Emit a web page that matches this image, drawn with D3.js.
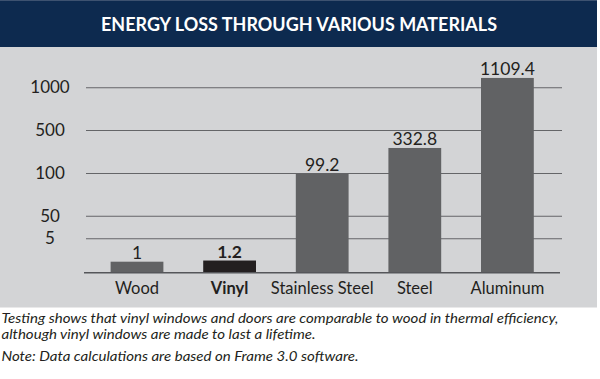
<!DOCTYPE html>
<html>
<head>
<meta charset="utf-8">
<script src="https://cdn.jsdelivr.net/npm/d3@7"></script>
<style>
  html, body { margin: 0; padding: 0; background: #ffffff; }
  svg { display: block; }
  text { font-family: Lato, "Open Sans", sans-serif; fill: #231f20; }
</style>
</head>
<body>
<script>
const title = "ENERGY LOSS THROUGH VARIOUS MATERIALS";
const categories = ["Wood", "Vinyl", "Stainless Steel", "Steel", "Aluminum"];
const values = [1, 1.2, 99.2, 332.8, 1109.4];
const valueLabels = ["1", "1.2", "99.2", "332.8", "1109.4"];
const highlight = "Vinyl";
const tickValues = [5, 50, 100, 500, 1000];
const breakValues = [0, 1, 5, 50, 100, 500, 1000];
const notes = [
  "Testing shows that vinyl windows and doors are comparable to wood in thermal efficiency,",
  "although vinyl windows are made to last a lifetime.",
  "Note: Data calculations are based on Frame 3.0 software."
];

const W = 600, H = 379;
const svg = d3.select("body").append("svg").attr("width", W).attr("height", H);

// header band
svg.append("rect").attr("x", 0).attr("y", 0).attr("width", 597).attr("height", 47).attr("fill", "#0d2a4f");
svg.append("rect").attr("x", 0).attr("y", 0).attr("width", 597).attr("height", 1).attr("fill", "#3d5270");
const t = svg.append("text").attr("x", 299).attr("y", 31).attr("text-anchor", "middle")
  .style("font-weight", "bold").style("font-size", "18.5px").style("fill", "#ffffff").text(title);
t.attr("textLength", 396).attr("lengthAdjust", "spacingAndGlyphs");

// plot background
svg.append("rect").attr("x", 0).attr("y", 47).attr("width", 597).attr("height", 260.5).attr("fill", "#d3d4d6");

// scales (hand-broken value axis, as in the original)
const y = d3.scaleLinear().domain(breakValues).range([272.7, 261.7, 238.3, 215.7, 173, 130, 87.3]);
const x = d3.scaleBand().domain(categories).range([90.7, 553.7]).paddingInner(0.43).paddingOuter(0.215);

// gridlines + labels via axis
const yAxis = d3.axisLeft(y).tickValues(tickValues).tickSize(-476).tickFormat(d3.format("d")).tickPadding(0);
const gy = svg.append("g").attr("transform", "translate(86,0)").call(yAxis);
gy.select(".domain").remove();
gy.selectAll(".tick line").attr("stroke", "#646568").attr("stroke-width", 1.1);
gy.selectAll(".tick text").attr("x", -36).attr("text-anchor", "middle")
  .style("font-size", "17px").style("font-family", "Lato, 'Open Sans', sans-serif").attr("fill", "#231f20");

// bars
svg.append("g").selectAll("rect").data(categories).join("rect")
  .attr("x", d => x(d))
  .attr("width", x.bandwidth())
  .attr("y", (d, i) => y(values[i]))
  .attr("height", (d, i) => y(0) - y(values[i]))
  .attr("fill", d => d === highlight ? "#231f20" : "#616264");

// baseline
svg.append("line").attr("x1", 84).attr("x2", 560).attr("y1", y(0)).attr("y2", y(0))
  .attr("stroke", "#55565a").attr("stroke-width", 1.5);

// value labels
svg.append("g").selectAll("text").data(categories).join("text")
  .attr("x", d => x(d) + x.bandwidth() / 2)
  .attr("y", (d, i) => y(values[i]) - 3)
  .attr("text-anchor", "middle")
  .style("font-size", "17.5px")
  .style("font-weight", d => d === highlight ? "bold" : "normal")
  .text((d, i) => valueLabels[i]);

// category labels
svg.append("g").selectAll("text").data(categories).join("text")
  .attr("x", d => x(d) + x.bandwidth() / 2)
  .attr("y", 294)
  .attr("text-anchor", "middle")
  .style("font-size", "16.5px")
  .style("font-weight", d => d === highlight ? "bold" : "normal")
  .text(d => d);

// notes (uniform horizontal fit, driven by the first line's width)
const noteY = [322.5, 338.8, 361];
const els = notes.map((n, i) => svg.append("text").attr("x", 1.5).attr("y", noteY[i])
  .style("font-style", "italic").style("font-size", "13.5px").text(n));
const k = 557 / els[0].node().getComputedTextLength();
els.forEach(el => {
  const len = el.node().getComputedTextLength();
  el.attr("textLength", len * k).attr("lengthAdjust", "spacingAndGlyphs");
});
</script>
</body>
</html>
